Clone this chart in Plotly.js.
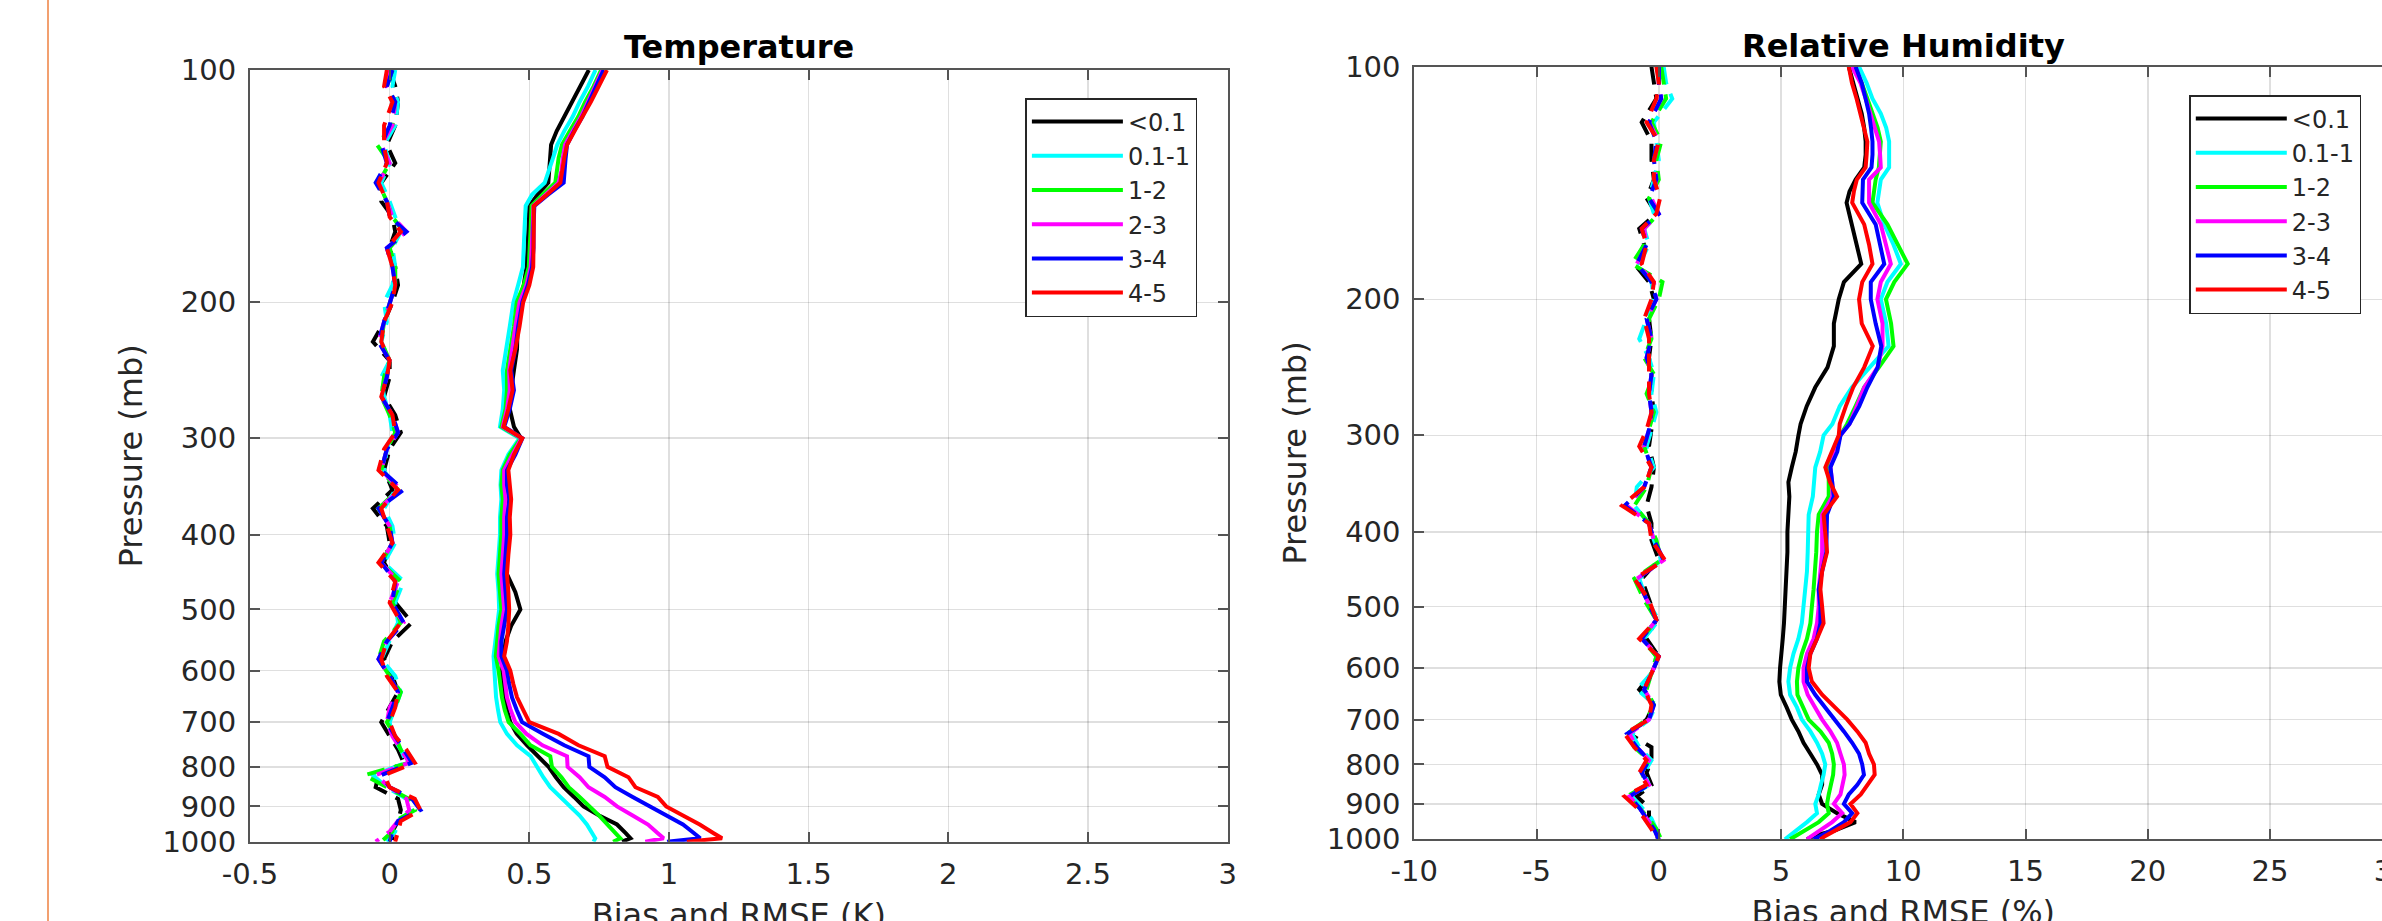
<!DOCTYPE html>
<html>
<head>
<meta charset="utf-8">
<script src="https://cdn.plot.ly/plotly-3.0.1.min.js"></script>
<style>
html,body{margin:0;padding:0;background:#fff;overflow:hidden;}
#plot{width:2420px;height:960px;}
</style>
</head>
<body>
<div id="plot"></div>
<script>
// ---------------- DATA ----------------
const groups = ['&lt;0.1', '0.1-1', '1-2', '2-3', '3-4', '4-5'];

// pressure levels (mb) for RMSE curves
const P = [100,105,110,115,120,125,130,135,140,145,
           150,160,170,180,190,200,215,230,245,260,
           275,290,300,315,330,345,360,380,400,425,
           450,475,500,525,550,575,600,625,650,675,
           700,725,750,775,800,825,850,875,900,925,
           950,975,990,1000];

// pressure levels (mb) for bias curves
const PB = [100,105,110,118,125,132,140,148,155,162,
            170,180,190,200,212,225,238,250,265,280,
            295,310,330,350,370,390,410,435,460,490,
            520,550,580,610,640,670,700,730,760,790,
            820,850,880,910,940,970,1000];

// Temperature RMSE (K)
const T_rmse_lt01 = [.713,.683,.654,.626,.598,.578,.575,.572,.568,.53,
  .50,.497,.495,.49,.48,.465,.458,.456,.445,.435,
  .43,.445,.47,.44,.415,.41,.42,.42,.415,.41,
  .42,.45,.468,.435,.415,.41,.402,.408,.414,.42,
  .432,.455,.492,.53,.569,.595,.623,.66,.694,.75,
  .814,.845,.862,.832];
const T_rmse_01_1 = [.737,.71,.68,.655,.625,.60,.585,.57,.555,.51,
  .487,.483,.48,.477,.46,.443,.43,.418,.405,.41,
  .405,.395,.465,.425,.40,.397,.40,.395,.395,.39,
  .385,.39,.392,.385,.378,.372,.375,.378,.381,.388,
  .396,.42,.456,.505,.527,.55,.575,.61,.647,.68,
  .706,.725,.736,.73];
const T_rmse_1_2 = [.757,.73,.70,.675,.645,.617,.605,.60,.593,.548,
  .508,.505,.502,.498,.48,.455,.445,.432,.42,.42,
  .415,.40,.47,.43,.405,.40,.405,.40,.40,.395,
  .39,.395,.40,.39,.385,.38,.39,.395,.402,.412,
  .426,.468,.504,.575,.581,.615,.641,.68,.718,.75,
  .78,.81,.826,.80];
const T_rmse_2_3 = [.762,.737,.71,.685,.655,.628,.62,.615,.605,.56,
  .515,.512,.51,.505,.49,.465,.45,.44,.428,.43,
  .42,.405,.472,.44,.41,.41,.415,.41,.41,.405,
  .40,.405,.41,.40,.395,.39,.408,.414,.42,.433,
  .45,.49,.547,.635,.637,.68,.712,.77,.814,.87,
  .925,.96,.981,.915];
const T_rmse_3_4 = [.766,.74,.715,.69,.66,.635,.63,.625,.623,.568,
  .518,.515,.515,.51,.495,.475,.46,.45,.435,.445,
  .43,.41,.475,.45,.42,.42,.43,.42,.42,.415,
  .41,.415,.42,.41,.40,.40,.42,.428,.438,.455,
  .474,.55,.625,.712,.715,.77,.808,.87,.933,.99,
  1.05,1.09,1.112,.993];
const T_rmse_4_5 = [.778,.75,.72,.69,.66,.635,.625,.618,.611,.564,
  .516,.516,.516,.514,.50,.478,.465,.45,.432,.44,
  .425,.408,.475,.445,.425,.43,.435,.43,.432,.425,
  .42,.425,.428,.425,.42,.41,.432,.443,.456,.478,
  .50,.605,.676,.77,.78,.855,.88,.96,.99,1.05,
  1.11,1.16,1.19,1.064];

// Temperature bias (K)
const T_bias_lt01 = [0.00,0.02,0.03,0.02,-0.01,0.02,-0.03,-0.03,0.01,0.02,
  0.00,0.02,0.03,0.01,-0.02,-0.06,0.00,0.00,-0.02,0.02,
  0.04,0.00,-0.02,0.01,-0.06,-0.01,0.00,-0.02,0.02,0.02,
  0.08,0.01,-0.02,0.01,0.03,0.00,-0.03,0.00,0.03,0.05,
  -0.04,-0.05,0.03,0.04,0.03,0.01,0.01];
const T_bias_01_1 = [0.02,0.01,0.03,0.02,-0.02,0.00,-0.03,0.00,0.02,0.04,
  0.01,0.02,0.01,-0.02,-0.01,-0.03,0.00,-0.03,-0.02,0.00,
  0.01,-0.01,-0.02,0.02,-0.02,0.01,0.02,-0.02,0.05,0.02,
  0.03,0.00,-0.03,0.02,0.04,0.02,0.00,0.01,0.04,0.06,
  -0.06,-0.01,0.06,0.08,0.03,0.02,-0.01];
const T_bias_1_2 = [0.01,-0.01,0.02,0.01,-0.045,0.00,-0.04,-0.01,0.01,0.05,
  0.00,0.02,0.02,0.00,-0.02,-0.03,0.00,-0.02,-0.03,0.00,
  0.02,-0.01,-0.03,0.03,-0.04,0.00,0.01,-0.03,0.04,0.01,
  0.04,-0.02,-0.04,0.00,0.04,0.02,-0.01,0.02,0.04,0.07,
  -0.09,-0.01,0.07,0.09,0.02,0.01,-0.03];
const T_bias_2_3 = [0.00,-0.01,0.02,0.01,-0.03,0.00,-0.04,-0.01,0.01,0.06,
  -0.01,0.01,0.02,0.00,-0.02,-0.04,0.00,-0.01,-0.03,0.01,
  0.03,-0.01,-0.03,0.04,-0.04,0.00,0.01,-0.03,0.03,0.00,
  0.05,-0.01,-0.04,0.00,0.03,0.00,-0.01,0.01,0.04,0.07,
  -0.05,0.00,0.06,0.07,0.03,0.00,-0.05];
const T_bias_3_4 = [0.01,-0.01,0.02,0.00,-0.03,-0.01,-0.05,-0.01,0.00,0.06,
  -0.01,0.01,0.02,0.00,-0.02,-0.04,0.00,-0.01,-0.03,0.01,
  0.03,-0.01,-0.03,0.05,-0.04,0.00,0.01,-0.03,0.02,0.01,
  0.05,-0.01,-0.04,0.00,0.03,0.01,-0.01,0.02,0.05,0.08,
  -0.03,0.00,0.08,0.11,0.03,0.01,0.00];
const T_bias_4_5 = [-0.01,-0.02,0.01,-0.02,-0.02,-0.01,-0.04,-0.01,0.00,0.04,
  -0.01,0.01,0.02,0.01,-0.02,-0.03,0.00,-0.01,-0.03,0.01,
  0.02,-0.02,-0.04,0.03,-0.03,-0.01,0.01,-0.04,0.02,0.00,
  0.04,-0.01,-0.03,-0.01,0.03,0.02,0.00,0.02,0.06,0.09,
  -0.02,0.00,0.09,0.11,0.04,0.03,0.02];

// Relative humidity RMSE (%)
const RH_rmse_lt01 = [7.77,7.95,8.1,8.3,8.4,8.46,8.46,8.4,8.05,7.8,
  7.68,7.9,8.1,8.28,7.57,7.36,7.16,7.16,6.9,6.4,
  6.05,5.8,5.71,5.6,5.44,5.3,5.34,5.3,5.26,5.26,
  5.23,5.2,5.16,5.12,5.07,5.0,4.96,4.93,4.99,5.23,
  5.44,5.71,5.92,6.2,6.47,6.68,6.68,6.54,6.68,7.29,
  8.05,7.16,6.33,6.06];
const RH_rmse_01_1 = [8.19,8.5,8.74,9.08,9.3,9.42,9.42,9.42,9.08,9.0,
  8.94,9.22,9.6,9.9,9.35,9.08,9.3,9.4,8.6,7.9,
  7.4,7.1,6.74,6.6,6.4,6.33,6.3,6.13,6.13,6.09,
  6.06,5.99,5.92,5.85,5.71,5.51,5.37,5.3,5.37,5.65,
  5.85,6.2,6.47,6.68,6.81,6.74,6.63,6.54,6.4,6.47,
  6.06,5.58,5.3,5.16];
const RH_rmse_1_2 = [7.98,8.3,8.53,8.74,8.95,9.08,9.05,9.0,8.87,8.8,
  8.74,9.35,9.8,10.18,9.63,9.29,9.5,9.6,9.0,8.4,
  8.05,7.7,7.43,7.2,6.95,6.95,6.95,6.54,6.47,6.44,
  6.4,6.33,6.26,6.2,6.06,5.85,5.71,5.65,5.67,5.92,
  6.13,6.61,6.95,7.09,7.16,7.13,7.02,6.95,6.88,6.95,
  6.54,5.92,5.58,5.37];
const RH_rmse_2_3 = [7.9,8.25,8.46,8.65,8.85,9.01,9.05,9.08,8.6,8.6,
  8.6,9.08,9.3,9.49,9.08,8.94,9.15,9.15,8.95,8.4,
  8.1,7.8,7.43,7.2,7.02,7.09,7.1,6.68,6.68,6.68,
  6.61,6.54,6.54,6.47,6.33,6.06,5.92,5.92,6.09,6.4,
  6.68,7.02,7.29,7.43,7.57,7.6,7.5,7.43,7.16,7.5,
  7.09,6.61,6.26,6.06];
const RH_rmse_3_4 = [8.05,8.3,8.46,8.6,8.68,8.74,8.74,8.7,8.35,8.32,
  8.32,8.87,9.05,9.22,8.67,8.67,8.87,9.1,8.95,8.53,
  8.2,7.8,7.43,7.3,7.02,7.09,7.16,6.88,6.88,6.85,
  6.68,6.54,6.61,6.61,6.47,6.2,6.06,6.06,6.4,6.81,
  7.23,7.57,7.91,8.19,8.32,8.39,8.12,7.77,7.57,7.91,
  7.57,7.02,6.61,6.33];
const RH_rmse_4_5 = [7.77,7.9,8.09,8.24,8.4,8.53,8.5,8.46,8.1,7.98,
  7.91,8.4,8.6,8.74,8.32,8.19,8.3,8.75,8.4,7.95,
  7.65,7.4,7.36,7.1,6.81,7.0,7.29,6.74,6.81,6.88,
  6.68,6.61,6.68,6.74,6.47,6.2,6.13,6.26,6.68,7.23,
  7.71,8.12,8.46,8.6,8.8,8.83,8.53,8.26,7.84,8.12,
  7.84,7.16,6.81,6.61];

// Relative humidity bias (%)
const RH_bias_lt01 = [-0.3,-0.2,-0.1,-0.7,-0.3,-0.3,-0.2,-0.5,-0.1,-0.8,
  -0.6,-1.0,-0.4,-0.2,-0.4,-0.3,-0.4,-0.3,-0.3,-0.2,
  -0.3,-0.4,-0.2,-0.3,-0.5,-0.3,-0.3,0.0,-0.7,-0.4,
  -0.1,-0.5,0.0,-0.3,-0.8,-0.2,-0.5,-1.2,-0.3,-0.3,
  -0.5,-0.3,-0.9,-0.4,-0.4,-0.3,0.0];
const RH_bias_01_1 = [0.2,0.3,0.55,-0.2,-0.1,0.0,-0.2,-0.4,-0.2,-0.6,
  -0.4,-0.8,-0.3,-0.2,-0.5,-0.8,-0.4,-0.2,-0.3,-0.1,
  -0.3,-0.5,-0.2,-0.9,-1.0,-0.4,-0.2,0.1,-0.8,-0.5,
  0.0,-0.6,-0.1,-0.3,-0.9,-0.1,-0.4,-1.1,-0.8,-0.3,
  -0.6,-0.4,-1.1,-0.7,-0.3,-0.1,0.1];
const RH_bias_1_2 = [0.1,0.2,0.3,-0.3,0.1,-0.1,0.0,-0.4,0.0,-0.6,
  -0.6,-1.1,0.15,0.0,-0.4,-0.3,-0.6,-0.2,-0.5,-0.2,
  -0.4,-0.6,-0.3,-0.5,-1.0,-0.4,-0.1,0.1,-1.0,-0.6,
  -0.1,-0.7,-0.1,-0.3,-0.5,-0.2,-0.5,-1.3,-1.0,-0.4,
  -0.7,-0.5,-1.3,-0.8,-0.4,-0.1,0.1];
const RH_bias_2_3 = [0.0,0.0,0.1,-0.4,0.0,-0.2,-0.1,-0.3,0.0,-0.6,
  -0.5,-0.9,-0.2,-0.1,-0.5,-0.3,-0.5,-0.3,-0.4,-0.3,
  -0.4,-0.6,-0.3,-0.6,-1.3,-0.4,-0.2,0.2,-0.9,-0.5,
  -0.1,-0.7,0.0,-0.3,-0.6,-0.2,-0.4,-1.2,-0.9,-0.4,
  -0.7,-0.4,-1.2,-0.8,-0.5,-0.2,0.0];
const RH_bias_3_4 = [0.0,0.0,0.1,-0.4,-0.1,-0.2,-0.1,-0.4,0.0,-0.7,
  -0.5,-0.9,-0.3,-0.1,-0.5,-0.3,-0.5,-0.3,-0.4,-0.3,
  -0.4,-0.6,-0.3,-0.6,-1.4,-0.4,-0.2,0.2,-0.9,-0.5,
  -0.1,-0.7,0.0,-0.3,-0.6,-0.2,-0.4,-1.3,-0.9,-0.4,
  -0.7,-0.4,-1.2,-0.8,-0.5,-0.2,0.0];
const RH_bias_4_5 = [-0.1,0.0,-0.1,-0.5,0.0,-0.2,-0.2,0.05,-0.1,-0.7,
  -0.5,-0.7,-0.2,-0.3,-0.6,-0.4,-0.4,-0.4,-0.4,-0.3,
  -0.5,-0.8,-0.3,-0.6,-1.5,-0.4,-0.3,0.25,-1.0,-0.4,
  -0.1,-0.8,0.0,-0.3,-0.6,-0.3,-0.4,-1.4,-1.0,-0.5,
  -0.8,-0.5,-1.4,-0.9,-0.6,-0.3,-0.1];

const pTicks = [100,200,300,400,500,600,700,800,900,1000];
const pTickText = ['100','200','300','400','500','600','700','800','900','1000'];
const tTicks = [-0.5,0,0.5,1,1.5,2,2.5,3];
const tTickText = ['-0.5','0','0.5','1','1.5','2','2.5','3'];
const rhTicks = [-10,-5,0,5,10,15,20,25,30];
const rhTickText = ['-10','-5','0','5','10','15','20','25','30'];

// ---------------- STYLE / LAYOUT ----------------
const colors = ['#000000', '#00ffff', '#00ff00', '#ff00ff', '#0000ff', '#ff0000'];
const FONT = 'DejaVu Sans, Liberation Sans, sans-serif';
const W = 2420, H = 960;
const LW = 4;
const DASH = '18px,10px';

const T_rmse = [T_rmse_lt01, T_rmse_01_1, T_rmse_1_2, T_rmse_2_3, T_rmse_3_4, T_rmse_4_5];
const T_bias = [T_bias_lt01, T_bias_01_1, T_bias_1_2, T_bias_2_3, T_bias_3_4, T_bias_4_5];
const RH_rmse = [RH_rmse_lt01, RH_rmse_01_1, RH_rmse_1_2, RH_rmse_2_3, RH_rmse_3_4, RH_rmse_4_5];
const RH_bias = [RH_bias_lt01, RH_bias_01_1, RH_bias_1_2, RH_bias_2_3, RH_bias_3_4, RH_bias_4_5];

const traces = [];
function addPanel(bias, rmse, xa, ya, leg) {
  for (let i = 0; i < groups.length; i++) {
    traces.push({type: 'scatter', mode: 'lines', x: bias[i], y: PB, xaxis: xa, yaxis: ya,
      line: {color: colors[i], width: LW, dash: DASH}, showlegend: false, hoverinfo: 'skip'});
  }
  for (let i = 0; i < groups.length; i++) {
    traces.push({type: 'scatter', mode: 'lines', x: rmse[i], y: P, xaxis: xa, yaxis: ya,
      name: groups[i], legend: leg,
      line: {color: colors[i], width: LW}, hoverinfo: 'skip'});
  }
}
addPanel(T_bias, T_rmse, 'x', 'y', 'legend');
addPanel(RH_bias, RH_rmse, 'x2', 'y2', 'legend2');

// pixel geometry of the two axes boxes (page pixels from top-left)
const L1 = 250, R1 = 1227.6, T1 = 70, B1 = 841.7;
const L2 = 1414.3, R2 = 2392.3, T2 = 66.7, B2 = 839.3;

const AXC = '#555555';
const TXC = '#262626';
function xAxis(dom, ticks, text, title) {
  return {domain: [dom[0] / W, dom[1] / W], tickmode: 'array', tickvals: ticks, ticktext: text,
    range: [ticks[0], ticks[ticks.length - 1]], showline: true, linecolor: AXC, linewidth: 2,
    mirror: 'ticks', ticks: 'inside', ticklen: 10, tickwidth: 2, tickcolor: AXC,
    showgrid: true, gridcolor: 'rgba(38,38,38,0.15)', gridwidth: 1.5, zeroline: false,
    tickfont: {family: FONT, size: 29, color: TXC}, ticklabelstandoff: 5,
    title: {text: title, font: {family: FONT, size: 32, color: TXC}, standoff: 14}};
}
function yAxis(dom, title) {
  return {domain: [1 - dom[1] / H, 1 - dom[0] / H], type: 'log', range: [3, 2],
    tickmode: 'array', tickvals: pTicks, ticktext: pTickText,
    showline: true, linecolor: AXC, linewidth: 2,
    mirror: 'ticks', ticks: 'inside', ticklen: 10, tickwidth: 2, tickcolor: AXC,
    showgrid: true, gridcolor: 'rgba(38,38,38,0.15)', gridwidth: 1.5, zeroline: false,
    tickfont: {family: FONT, size: 29, color: TXC}, ticklabelstandoff: 6,
    title: {text: title, font: {family: FONT, size: 32, color: TXC}, standoff: 10}};
}
function legendAt(xr, yt) {
  return {x: xr / W, xanchor: 'right', y: 1 - yt / H, yanchor: 'top',
    bgcolor: '#ffffff', bordercolor: '#262626', borderwidth: 1.5,
    font: {family: FONT, size: 24, color: TXC}, itemwidth: 91, tracegroupgap: 0,
    traceorder: 'normal'};
}

const layout = {
  width: W, height: H,
  margin: {l: 0, r: 0, t: 0, b: 0},
  paper_bgcolor: '#ffffff', plot_bgcolor: '#ffffff',
  font: {family: FONT, color: TXC},
  showlegend: true,
  xaxis: Object.assign(xAxis([L1, R1], tTicks, tTickText, 'Bias and RMSE (K)'), {anchor: 'y'}),
  yaxis: Object.assign(yAxis([T1, B1], 'Pressure (mb)'), {anchor: 'x'}),
  xaxis2: Object.assign(xAxis([L2, R2], rhTicks, rhTickText, 'Bias and RMSE (%)'), {anchor: 'y2'}),
  yaxis2: Object.assign(yAxis([T2, B2], 'Pressure (mb)'), {anchor: 'x2'}),
  legend: legendAt(1197.4, 98),
  legend2: legendAt(2361.3, 95),
  annotations: [
    {text: '<b>Temperature</b>', xref: 'paper', yref: 'paper', x: (L1 + R1) / 2 / W, y: 1 - 68 / H,
     xanchor: 'center', yanchor: 'bottom', showarrow: false, font: {family: FONT, size: 32, color: '#000'}},
    {text: '<b>Relative Humidity</b>', xref: 'paper', yref: 'paper', x: (L2 + R2) / 2 / W, y: 1 - 67 / H,
     xanchor: 'center', yanchor: 'bottom', showarrow: false, font: {family: FONT, size: 32, color: '#000'}}
  ],
  shapes: [
    {type: 'line', xref: 'paper', yref: 'paper', x0: 48 / W, x1: 48 / W, y0: 0, y1: 1,
     line: {color: '#f2a070', width: 2}}
  ]
};

Plotly.newPlot('plot', traces, layout, {displayModeBar: false, staticPlot: true});
</script>
</body>
</html>
